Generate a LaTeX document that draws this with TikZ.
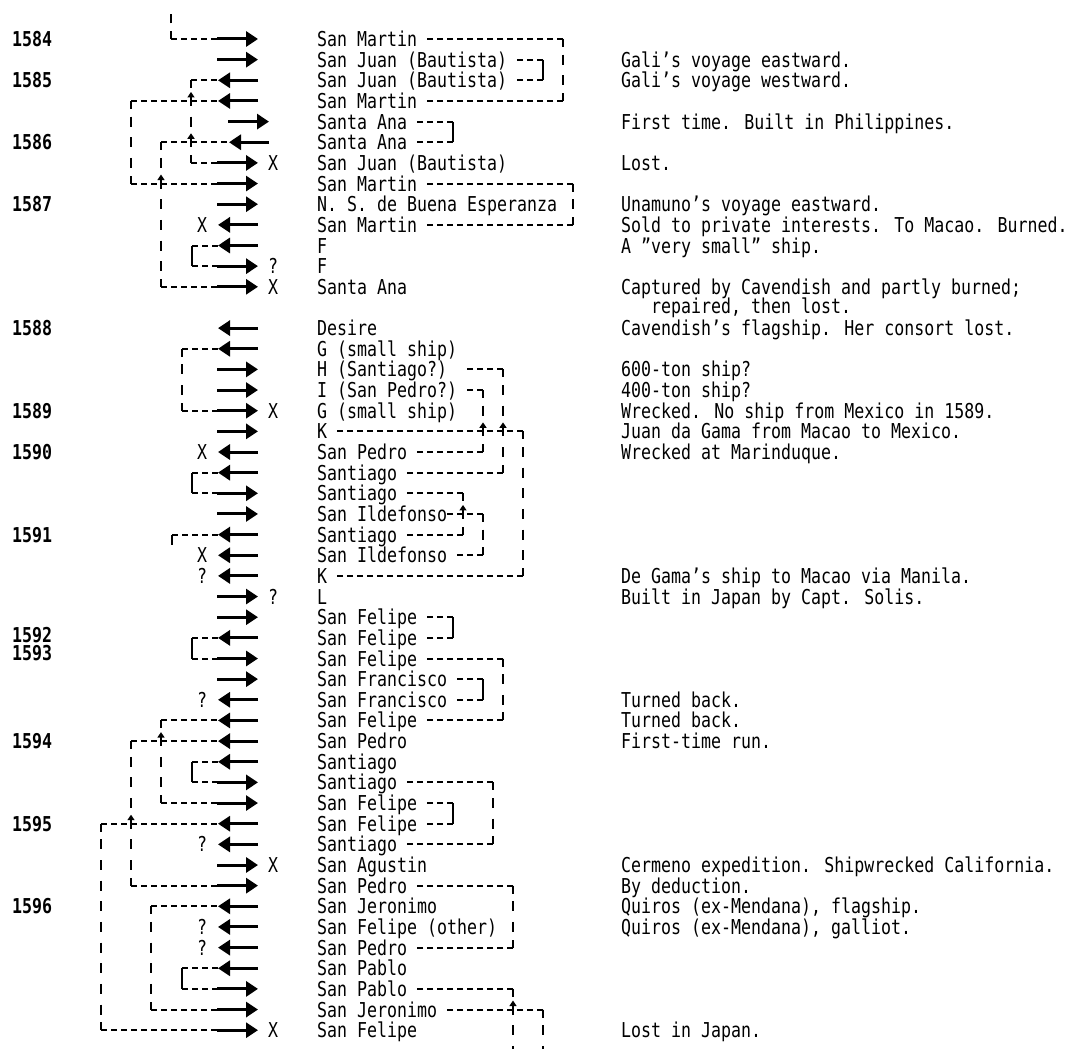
\documentclass[tikz,border=0pt]{standalone}
\usepackage{fontspec}
\newfontfamily\shipfont[FakeStretch=0.81]{DejaVu Sans Mono}
\usetikzlibrary{arrows.meta}
\newcommand\rowy[1]{(39+20.65*(#1))}
\tikzset{
  nm/.style={anchor=base west, inner sep=0pt, font=\shipfont\fontsize{20.5}{22}\selectfont},
  yrs/.style={anchor=base west, inner sep=0pt, font=\shipfont\bfseries\fontsize{20.5}{22}\selectfont},
  mk/.style={anchor=base, inner sep=0pt, font=\shipfont\fontsize{20.5}{22}\selectfont},
  arr/.style={line width=3pt, -{Triangle[length=12pt,width=15pt]}},
  ln/.style={line width=2pt},
  hd/.style={line width=2pt, dash pattern=on 6pt off 4pt},
  vd/.style={line width=2pt, dash pattern=on 10pt off 10.65pt, dash phase=5pt},
  xing/.style={line width=1.6pt, -{Triangle[length=5.5pt,width=7pt]}},
}
% ship rows
\newcommand\shipR[3]{%
  \coordinate (a#1) at ({217+#2},{\rowy{#1}});
  \coordinate (e#1) at ({258+#2},{\rowy{#1}});
  \draw[arr] (a#1) -- (e#1);
  \node[nm] (n#1) at (317,{\rowy{#1}+7.5}) {#3};}
\newcommand\shipL[3]{%
  \coordinate (a#1) at ({218+#2},{\rowy{#1}});
  \coordinate (e#1) at ({258+#2},{\rowy{#1}});
  \draw[arr] (e#1) -- (a#1);
  \node[nm] (n#1) at (317,{\rowy{#1}+7.5}) {#3};}
\newcommand\mR[2]{\node[mk] (mr#1) at (273,{\rowy{#1}+7.5}) {#2};}
\newcommand\mL[2]{\node[mk] (ml#1) at (202,{\rowy{#1}+7.5}) {#2};}
\newcommand\cmt[2]{\node[nm] (c#1) at (621,{\rowy{#1}+7.5}) {#2};}
\newcommand\yr[2]{\node[yrs] (y#2) at (12,{\rowy{#1}+7.5}) {#2};}
% left connectors
\newcommand\lcon[3]{%
  \draw[hd] (a#1 -| #3) -- (a#1);
  \draw[vd] (a#1 -| #3) -- (a#2 -| #3);
  \draw[ln] (a#1 -| #3) -- ++(0,8);
  \draw[ln] (a#2 -| #3) -- ++(0,-8);
  \draw[hd] (a#2 -| #3) -- (a#2);}
\newcommand\lbr[3]{%
  \draw[hd] (a#1 -| #3) -- (a#1);
  \draw[ln] (a#1 -| #3) -- (a#2 -| #3);
  \draw[hd] (a#2 -| #3) -- (a#2);}
% right connectors
\newcommand\rcon[5]{%
  \coordinate (p#1) at ({323+10*#5},{\rowy{#1}});
  \coordinate (p#3) at ({323+10*#5},{\rowy{#3}});
  \coordinate (s#1) at ({317+10*#2},{\rowy{#1}});
  \coordinate (s#3) at ({317+10*#4},{\rowy{#3}});
  \draw[hd] (p#1) -- (s#1);
  \draw[vd] (p#1) -- (p#3);
  \draw[ln] (p#1) -- ++(0,8);
  \draw[ln] (p#3) -- ++(0,-8);
  \draw[hd] (p#3) -- (s#3);}
\newcommand\rbr[5]{%
  \coordinate (p#1) at ({323+10*#5},{\rowy{#1}});
  \coordinate (p#3) at ({323+10*#5},{\rowy{#3}});
  \coordinate (s#1) at ({317+10*#2},{\rowy{#1}});
  \coordinate (s#3) at ({317+10*#4},{\rowy{#3}});
  \draw[hd] (p#1) -- (s#1);
  \draw[ln] (p#1) -- (p#3);
  \draw[hd] (p#3) -- (s#3);}
\newcommand\ropen[3]{%
  \coordinate (p#1) at ({323+10*#3},{\rowy{#1}});
  \coordinate (s#1) at ({317+10*#2},{\rowy{#1}});
  \coordinate (q#1) at ({323+10*#3},1049);
  \draw[hd] (p#1) -- (s#1);
  \draw[vd] (p#1) -- (q#1);
  \draw[ln] (p#1) -- ++(0,8);}
\newcommand\xg[2]{\draw[xing] (#1,{\rowy{#2}+1}) -- (#1,{\rowy{#2}-9});}

\begin{document}
\begin{tikzpicture}[x=1pt,y=-1pt]
\path[fill=white] (0,0) rectangle (1071,1049);
\useasboundingbox (0,0) rectangle (1071,1049);

% column coordinates on the left
\coordinate (k101) at (101,0);
\coordinate (k131) at (131,0);
\coordinate (k151) at (151,0);
\coordinate (k161) at (161,0);
\coordinate (k171) at (171,0);
\coordinate (k172) at (172,0);
\coordinate (k182) at (182,0);
\coordinate (k191) at (191,0);
\coordinate (k192) at (192,0);

% years
\yr{0}{1584}
\yr{2}{1585}
\yr{5}{1586}
\yr{8}{1587}
\yr{14}{1588}
\yr{18}{1589}
\yr{20}{1590}
\yr{24}{1591}
\yr{28.85}{1592}
\yr{29.75}{1593}
\yr{34}{1594}
\yr{38}{1595}
\yr{42}{1596}

% ships
\shipR{0}{0}{San Martin}
\shipR{1}{0}{San Juan (Bautista)}
\shipL{2}{0}{San Juan (Bautista)}
\shipL{3}{0}{San Martin}
\shipR{4}{11}{Santa Ana}
\shipL{5}{11}{Santa Ana}
\shipR{6}{0}{San Juan (Bautista)} \mR{6}{X}
\shipR{7}{0}{San Martin}
\shipR{8}{0}{N. S. de Buena Esperanza}
\shipL{9}{0}{San Martin} \mL{9}{X}
\shipL{10}{0}{F}
\shipR{11}{0}{F} \mR{11}{?}
\shipR{12}{0}{Santa Ana} \mR{12}{X}
\shipL{14}{0}{Desire}
\shipL{15}{0}{G (small ship)}
\shipR{16}{0}{H (Santiago?)}
\shipR{17}{0}{I (San Pedro?)}
\shipR{18}{0}{G (small ship)} \mR{18}{X}
\shipR{19}{0}{K}
\shipL{20}{0}{San Pedro} \mL{20}{X}
\shipL{21}{0}{Santiago}
\shipR{22}{0}{Santiago}
\shipR{23}{0}{San Ildefonso}
\shipL{24}{0}{Santiago}
\shipL{25}{0}{San Ildefonso} \mL{25}{X}
\shipL{26}{0}{K} \mL{26}{?}
\shipR{27}{0}{L} \mR{27}{?}
\shipR{28}{0}{San Felipe}
\shipL{29}{0}{San Felipe}
\shipR{30}{0}{San Felipe}
\shipR{31}{0}{San Francisco}
\shipL{32}{0}{San Francisco} \mL{32}{?}
\shipL{33}{0}{San Felipe}
\shipL{34}{0}{San Pedro}
\shipL{35}{0}{Santiago}
\shipR{36}{0}{Santiago}
\shipR{37}{0}{San Felipe}
\shipL{38}{0}{San Felipe}
\shipL{39}{0}{Santiago} \mL{39}{?}
\shipR{40}{0}{San Agustin} \mR{40}{X}
\shipR{41}{0}{San Pedro}
\shipL{42}{0}{San Jeronimo}
\shipL{43}{0}{San Felipe (other)} \mL{43}{?}
\shipL{44}{0}{San Pedro} \mL{44}{?}
\shipL{45}{0}{San Pablo}
\shipR{46}{0}{San Pablo}
\shipR{47}{0}{San Jeronimo}
\shipR{48}{0}{San Felipe} \mR{48}{X}

% left connectors
\draw[hd] (a0 -| k171) -- (a0);
\draw[vd] (a0 -| k171) -- (171,14);
\draw[ln] (a0 -| k171) -- ++(0,-8);
\lcon{2}{6}{k191}
\lcon{3}{7}{k131}
\lcon{5}{12}{k161}
\lbr{10}{11}{k192}
\lcon{15}{18}{k182}
\lbr{21}{22}{k192}
\draw[hd] (a24 -| k172) -- (a24);
\draw[ln] (a24 -| k172) -- ++(0,10);
\lbr{29}{30}{k192}
\lcon{33}{37}{k161}
\lcon{34}{41}{k131}
\lbr{35}{36}{k192}
\lcon{38}{48}{k101}
\lcon{42}{47}{k151}
\lbr{45}{46}{k182}

% right connectors
\rcon{0}{11}{3}{11}{24}
\rbr{1}{20}{2}{20}{22}
\rbr{4}{10}{5}{10}{13}
\rcon{7}{11}{9}{11}{25}
\rcon{16}{15}{21}{9}{18}
\rcon{17}{15}{20}{10}{16}
\rcon{19}{2}{26}{2}{20}
\rcon{22}{9}{24}{9}{14}
\rcon{23}{13}{25}{14}{16}
\rbr{28}{11}{29}{11}{13}
\rcon{30}{11}{33}{11}{18}
\rbr{31}{14}{32}{14}{16}
\rcon{36}{9}{39}{9}{17}
\rbr{37}{11}{38}{11}{13}
\rcon{41}{10}{44}{10}{19}
\ropen{46}{10}{19}
\ropen{47}{13}{22}

% crossing marks
\xg{191}{3}
\xg{191}{5}
\xg{161}{7}
\xg{161}{34}
\xg{131}{38}
\xg{483}{19}
\xg{503}{19}
\xg{463}{23}
\xg{513}{47}

% comments
\cmt{1}{Gali’s voyage eastward.}
\cmt{2}{Gali’s voyage westward.}
\cmt{4}{First time. Built in Philippines.}
\cmt{6}{Lost.}
\cmt{8}{Unamuno’s voyage eastward.}
\cmt{9}{Sold to private interests. To Macao. Burned.}
\cmt{10}{A ”very small” ship.}
\cmt{12}{Captured by Cavendish and partly burned;}
\node[nm] (c12b) at (651,{\rowy{12.93}+7.5}) {repaired, then lost.};
\cmt{14}{Cavendish’s flagship. Her consort lost.}
\cmt{16}{600-ton ship?}
\cmt{17}{400-ton ship?}
\cmt{18}{Wrecked. No ship from Mexico in 1589.}
\cmt{19}{Juan da Gama from Macao to Mexico.}
\cmt{20}{Wrecked at Marinduque.}
\cmt{26}{De Gama’s ship to Macao via Manila.}
\cmt{27}{Built in Japan by Capt. Solis.}
\cmt{32}{Turned back.}
\cmt{33}{Turned back.}
\cmt{34}{First-time run.}
\cmt{40}{Cermeno expedition. Shipwrecked California.}
\cmt{41}{By deduction.}
\cmt{42}{Quiros (ex-Mendana), flagship.}
\cmt{43}{Quiros (ex-Mendana), galliot.}
\cmt{48}{Lost in Japan.}
\end{tikzpicture}
\end{document}
